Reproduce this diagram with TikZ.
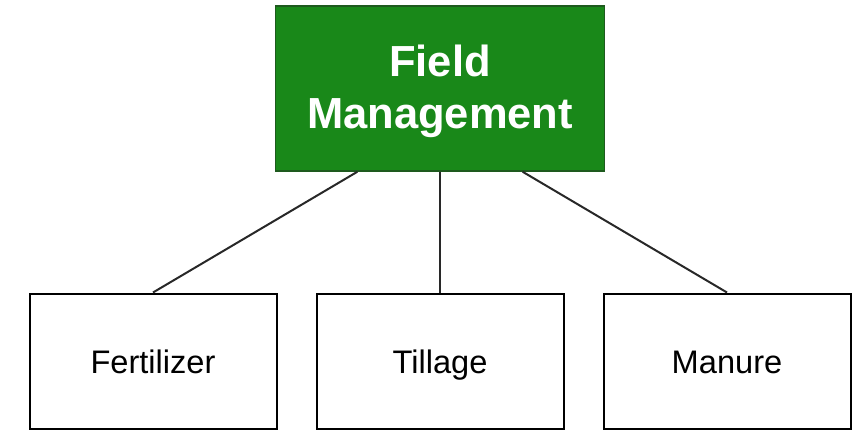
\documentclass[tikz,border=0pt]{standalone}
\usepackage{fontspec}
\setmainfont{Liberation Sans}
\usetikzlibrary{calc}
\definecolor{leafgreen}{RGB}{25,136,25}
\definecolor{leafedge}{RGB}{30,90,30}
\definecolor{linkgray}{RGB}{40,40,40}
\begin{document}
\begin{tikzpicture}[x=1pt,y=-1pt,
  topbox/.style={draw=leafedge, fill=leafgreen, line width=1.5pt,
    minimum width=329pt, minimum height=165pt, inner sep=0pt},
  toplabel/.style={text=white, align=center, inner sep=0pt,
    font=\fontsize{43.5}{52}\selectfont\bfseries},
  leafbox/.style={draw=black, fill=white, line width=2pt,
    minimum width=247pt, minimum height=135pt, inner sep=0pt,
    text height=30pt, text depth=6pt,
    font=\fontsize{32.6}{39}\selectfont},
  link/.style={draw=linkgray, line width=2pt}]
\useasboundingbox (0,0) rectangle (856,430);
\node[topbox] (field) at (440,88.5) {};
\node[toplabel] (fieldtext) at ($(field.center)+(0,3)$) {Field\\Management};
\node[leafbox] (fert) at (153,361) {Fertilizer};
\node[leafbox] (till) at (440,361) {Tillage};
\node[leafbox] (manure) at (727,361) {Manure};
\coordinate (fl) at ($(field.south west)!0.25!(field.south east)$);
\coordinate (fr) at ($(field.south west)!0.75!(field.south east)$);
\draw[link] (fl) -- (fert.north);
\draw[link] (field.south) -- (till.north);
\draw[link] (fr) -- (manure.north);
\end{tikzpicture}
\end{document}
